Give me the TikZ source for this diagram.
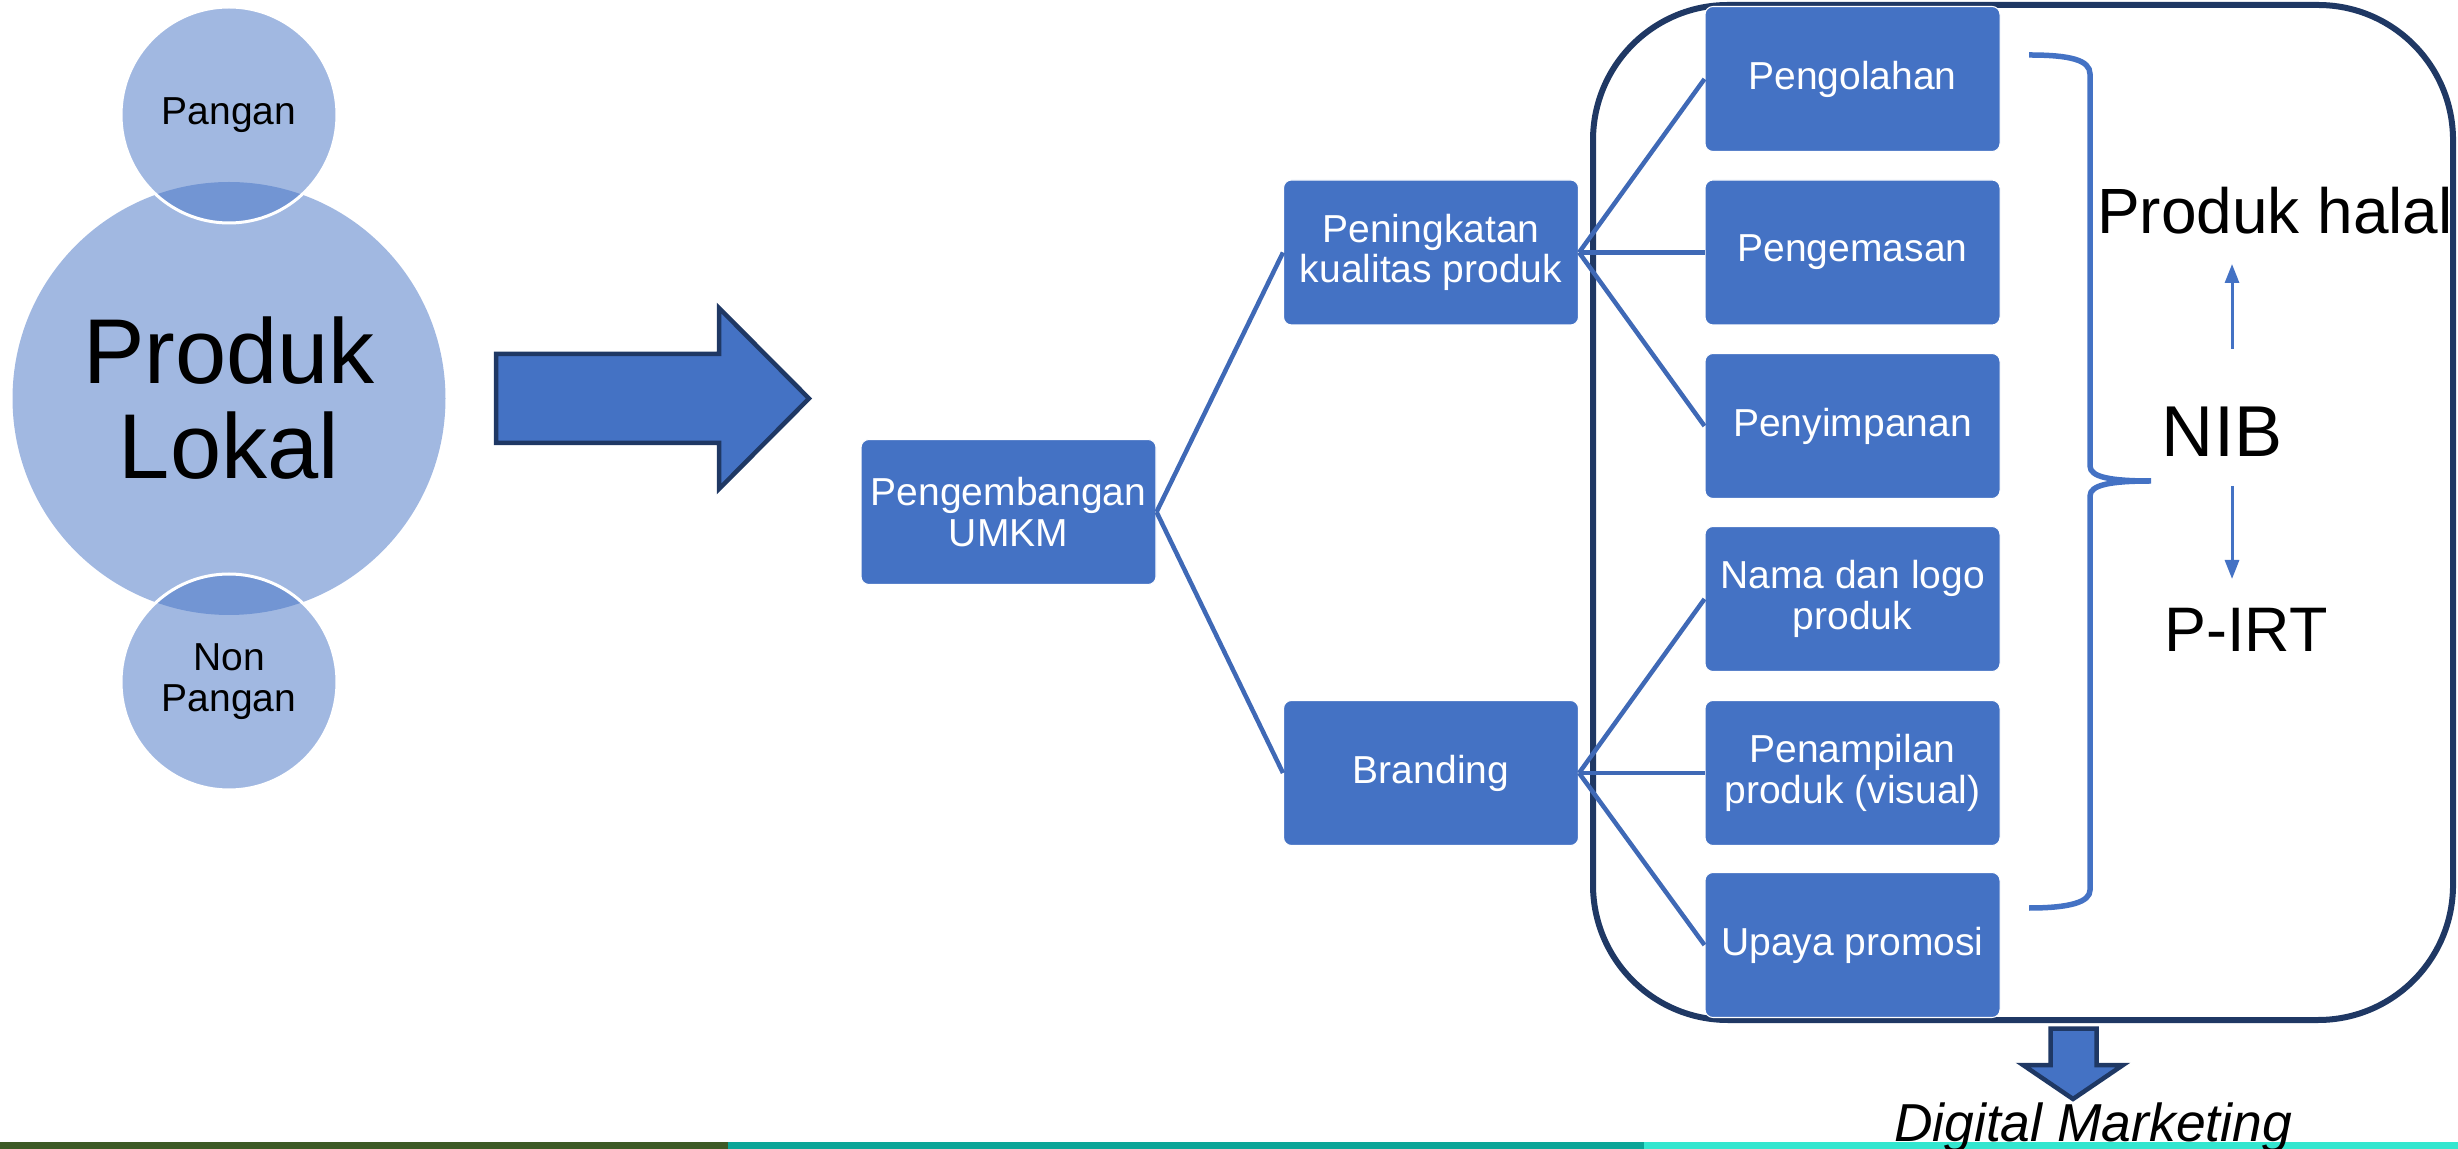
\documentclass[tikz,border=0pt]{standalone}
\usepackage{fontspec}
\setmainfont{Liberation Sans}
\usetikzlibrary{arrows.meta}
\definecolor{boxblue}{HTML}{4472C4}
\definecolor{linkblue}{HTML}{3F69B6}
\definecolor{navy}{HTML}{1F3864}
\definecolor{barA}{HTML}{3C5A26}
\definecolor{barB}{HTML}{0AA597}
\definecolor{barC}{HTML}{33E6CF}
\begin{document}
\begin{tikzpicture}[x=0.1mm,y=-0.1mm,
  stepbox/.style={fill=boxblue, draw=white, line width=0.3pt, rounded corners=0.8mm,
    minimum width=29.5mm, minimum height=14.5mm, text=white, align=center, inner sep=0pt,
    font=\fontsize{11.1pt}{11.6pt}\selectfont},
  link/.style={draw=linkblue, line width=0.45mm},
  bigcirc/.style={circle, fill=boxblue, fill opacity=0.5, text opacity=1, inner sep=0pt, align=center},
  smallcirc/.style={bigcirc, draw=white, draw opacity=1, line width=0.3mm, minimum size=21.6mm,
    font=\fontsize{11.1pt}{11.6pt}\selectfont},
  blockarrow/.style={draw=navy, fill=boxblue, line width=0.45mm, line join=miter},
  thinarrow/.style={draw=boxblue, line width=0.3mm, -{Triangle[length=1.9mm,width=1.4mm]}},
  label/.style={anchor=base, text=black}
]
\useasboundingbox (0,0) rectangle (2458,1149);

% bottom bars
\fill[barA] (0,1142) rectangle (728,1149);
\fill[barB] (728,1142) rectangle (1644,1149);
\fill[barC] (1644,1142) rectangle (2458,1149);

% circles
\node[bigcirc, minimum size=43.3mm, font=\fontsize{26.2pt}{27pt}\selectfont] (lokal) at (229,398.5) {Produk\\Lokal};
\node[smallcirc] (pangan) at (229,115) {Pangan};
\node[smallcirc] (nonpangan) at (229,682) {Non\\Pangan};

% big right arrow
\draw[blockarrow] (496,354) -- (719,354) -- (719,308) -- (809,398.5) -- (719,489) -- (719,443) -- (496,443) -- cycle;

% container
\draw[navy, line width=0.6mm, rounded corners=13.5mm] (1593,5) rectangle (2453,1020);

% boxes
\node[stepbox] (umkm) at (1008.5,512) {Pengembangan\\UMKM};
\node[stepbox] (qual) at (1431,252.5) {Peningkatan\\kualitas produk};
\node[stepbox] (brand) at (1431,773) {Branding};
\node[stepbox] (olah) at (1852.5,79) {Pengolahan};
\node[stepbox] (kemas) at (1852.5,252.5) {Pengemasan};
\node[stepbox] (simpan) at (1852.5,426) {Penyimpanan};
\node[stepbox] (logo) at (1852.5,599) {Nama dan logo\\produk};
\node[stepbox] (tampil) at (1852.5,773) {Penampilan\\produk (visual)};
\node[stepbox] (promosi) at (1852.5,945) {Upaya promosi};

% connectors
\draw[link] (umkm.east) -- (qual.west);
\draw[link] (umkm.east) -- (brand.west);
\draw[link] (qual.east) -- (olah.west);
\draw[link] (qual.east) -- (kemas.west);
\draw[link] (qual.east) -- (simpan.west);
\draw[link] (brand.east) -- (logo.west);
\draw[link] (brand.east) -- (tampil.west);
\draw[link] (brand.east) -- (promosi.west);

% brace
\draw[boxblue, line width=0.55mm]
  (2029,55) .. controls (2070,55) and (2090,60) .. (2090,74)
  -- (2090,466) .. controls (2090,477) and (2110,481) .. (2151,481)
  .. controls (2110,481) and (2090,485) .. (2090,496)
  -- (2090,890) .. controls (2090,902) and (2070,908) .. (2029,908);

% labels
\node[label, font=\fontsize{18.2pt}{19pt}\selectfont] (halal) at (2275,234) {Produk halal};
\node[label, font=\fontsize{20.5pt}{21pt}\selectfont] (nib) at (2222,457) {NIB};
\node[label, font=\fontsize{17.9pt}{19pt}\selectfont] (pirt) at (2246,652) {P-IRT};

\coordinate (upS) at (2232,349);
\coordinate (upE) at (2232,264);
\coordinate (dnS) at (2232,486);
\coordinate (dnE) at (2232,579);
\draw[thinarrow] (upS) -- (upE);
\draw[thinarrow] (dnS) -- (dnE);

% down arrow
\draw[blockarrow] (2050.5,1028.5) -- (2096.5,1028.5) -- (2096.5,1065) -- (2123,1065) -- (2073,1099) -- (2023,1065) -- (2050.5,1065) -- cycle;

\node[label, font=\fontsize{15.2pt}{16pt}\selectfont\itshape] (digital) at (2093,1141) {Digital Marketing};
\end{tikzpicture}
\end{document}
